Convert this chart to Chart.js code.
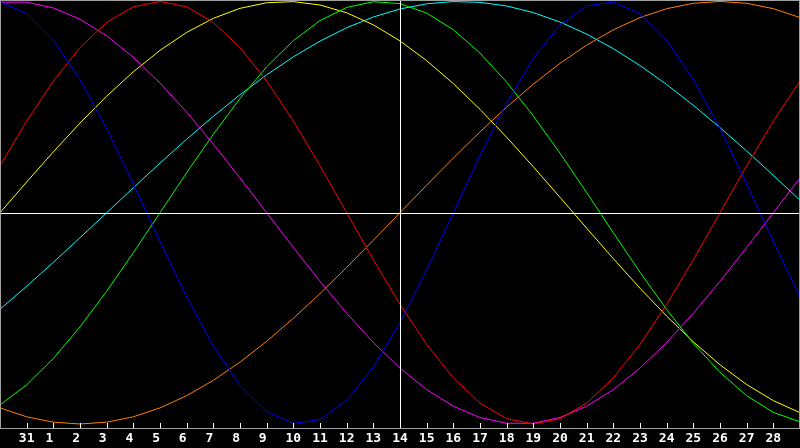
<!DOCTYPE html>
<html>
<head>
<meta charset="utf-8">
<script src="https://cdn.jsdelivr.net/npm/chart.js@4.4.1/dist/chart.umd.min.js"></script>
<style>
  html, body { margin: 0; padding: 0; background: #000; }
  #wrap { width: 800px; height: 448px; }
</style>
</head>
<body>
<div id="wrap"><canvas id="c" width="800" height="448"></canvas></div>
<script>
// Day labels along the bottom (first and last positions are not labelled)
const dayLabels = ['30','31','1','2','3','4','5','6','7','8','9','10','11','12','13','14','15','16','17','18','19','20','21','22','23','24','25','26','27','28','1'];
const markerDay = 15; // index of the highlighted day "14"

// Series values (-1 .. 1)
const bluePhysical = [0.9977,0.9423,0.8170,0.6311,0.3984,0.1362,-0.1362,-0.3984,-0.6311,-0.8170,-0.9423,-0.9977,-0.9791,-0.8879,-0.7308,-0.5196,-0.2698,0,0.2698,0.5196,0.7308,0.8879,0.9791,0.9977,0.9423,0.8170,0.6311,0.3984,0.1362,-0.1362,-0.3984];
const redEmotional = [0.2225,0.4339,0.6235,0.7818,0.9010,0.9749,1,0.9749,0.9010,0.7818,0.6235,0.4339,0.2225,0,-0.2225,-0.4339,-0.6235,-0.7818,-0.9010,-0.9749,-1,-0.9749,-0.9010,-0.7818,-0.6235,-0.4339,-0.2225,0,0.2225,0.4339,0.6235];
const greenIntellectual = [-0.9096,-0.8146,-0.6901,-0.5406,-0.3717,-0.1893,0,0.1893,0.3717,0.5406,0.6901,0.8146,0.9096,0.9718,0.9989,0.9898,0.9450,0.8660,0.7557,0.6182,0.4582,0.2817,0.0951,-0.0951,-0.2817,-0.4582,-0.6182,-0.7557,-0.8660,-0.9450,-0.9898];
const magentaIntuitive = [0.9966,0.9966,0.9694,0.9158,0.8372,0.7357,0.6142,0.4759,0.3247,0.1646,0,-0.1646,-0.3247,-0.4759,-0.6142,-0.7357,-0.8372,-0.9158,-0.9694,-0.9966,-0.9966,-0.9694,-0.9158,-0.8372,-0.7357,-0.6142,-0.4759,-0.3247,-0.1646,0,0.1646];
const yellowAesthetic = [0,0.1456,0.2881,0.4244,0.5517,0.6673,0.7686,0.8536,0.9203,0.9675,0.9940,0.9993,0.9834,0.9464,0.8894,0.8133,0.7199,0.6112,0.4894,0.3573,0.2174,0.0730,-0.0730,-0.2174,-0.3573,-0.4894,-0.6112,-0.7199,-0.8133,-0.8894,-0.9464];
const orangeAwareness = [-0.9239,-0.9659,-0.9914,-1,-0.9914,-0.9659,-0.9239,-0.8660,-0.7934,-0.7071,-0.6088,-0.5,-0.3827,-0.2588,-0.1305,0,0.1305,0.2588,0.3827,0.5,0.6088,0.7071,0.7934,0.8660,0.9239,0.9659,0.9914,1,0.9914,0.9659,0.9239];
const cyanSpiritual = [-0.4566,-0.3482,-0.2349,-0.1183,0,0.1183,0.2349,0.3482,0.4566,0.5586,0.6528,0.7378,0.8125,0.8757,0.9267,0.9646,0.9890,0.9996,0.9960,0.9786,0.9473,0.9028,0.8456,0.7765,0.6966,0.6068,0.5085,0.4031,0.2921,0.1769,0.0592];

function ds(data, color) {
  return { data, borderColor: color, borderWidth: 1, pointRadius: 0, fill: false, tension: 0 };
}

const overlay = {
  id: 'overlay',
  beforeDraw(chart) {
    const ctx = chart.ctx;
    ctx.save();
    ctx.fillStyle = '#000';
    ctx.fillRect(0, 0, chart.width, chart.height);
    ctx.restore();
  },
  afterDatasetsDraw(chart) {
    const ctx = chart.ctx, a = chart.chartArea;
    const xs = chart.scales.x, ys = chart.scales.y;
    ctx.save();
    ctx.lineWidth = 1;
    // centre lines
    ctx.strokeStyle = '#ffffff';
    const y0 = Math.round(ys.getPixelForValue(0)) + 0.5;
    ctx.beginPath(); ctx.moveTo(a.left, y0); ctx.lineTo(a.right, y0); ctx.stroke();
    const xm = Math.round(xs.getPixelForValue(markerDay)) + 0.5;
    ctx.beginPath(); ctx.moveTo(xm, a.top); ctx.lineTo(xm, a.bottom); ctx.stroke();
    // tick marks inside the plot
    for (let i = 1; i < dayLabels.length - 1; i++) {
      const x = Math.round(xs.getPixelForValue(i)) + 0.5;
      ctx.beginPath(); ctx.moveTo(x, a.bottom - 5); ctx.lineTo(x, a.bottom); ctx.stroke();
    }
    // frame
    ctx.strokeStyle = '#a0a0a0';
    ctx.strokeRect(0.5, 0.5, chart.width - 1, Math.round(a.bottom));
    ctx.restore();
  }
};

new Chart(document.getElementById('c'), {
  type: 'line',
  data: {
    labels: dayLabels,
    datasets: [
      ds(bluePhysical, '#0000ff'),
      ds(redEmotional, '#ff0000'),
      ds(greenIntellectual, '#00ff00'),
      ds(magentaIntuitive, '#ff00ff'),
      ds(yellowAesthetic, '#ffff00'),
      ds(orangeAwareness, '#ff8000'),
      ds(cyanSpiritual, '#00ffff')
    ]
  },
  options: {
    responsive: false,
    devicePixelRatio: 1,
    animation: false,
    layout: { padding: 0 },
    plugins: { legend: { display: false }, tooltip: { enabled: false } },
    scales: {
      x: {
        type: 'category',
        offset: false,
        grid: { display: false, drawTicks: false },
        border: { display: false },
        afterFit(s) { s.height = 20; s.paddingLeft = 0; s.paddingRight = 0; },
        ticks: {
          autoSkip: false,
          maxRotation: 0,
          padding: 3,
          color: '#ffffff',
          font: { family: 'DejaVu Sans Mono', size: 13, weight: 'bold' },
          callback(value, index) {
            if (index === 0 || index === dayLabels.length - 1) return '';
            const l = dayLabels[index];
            return l.length === 1 ? l + ' ' : l;
          }
        }
      },
      y: {
        display: false,
        min: -1.019,
        max: 1.007
      }
    }
  },
  plugins: [overlay]
});
</script>
</body>
</html>
